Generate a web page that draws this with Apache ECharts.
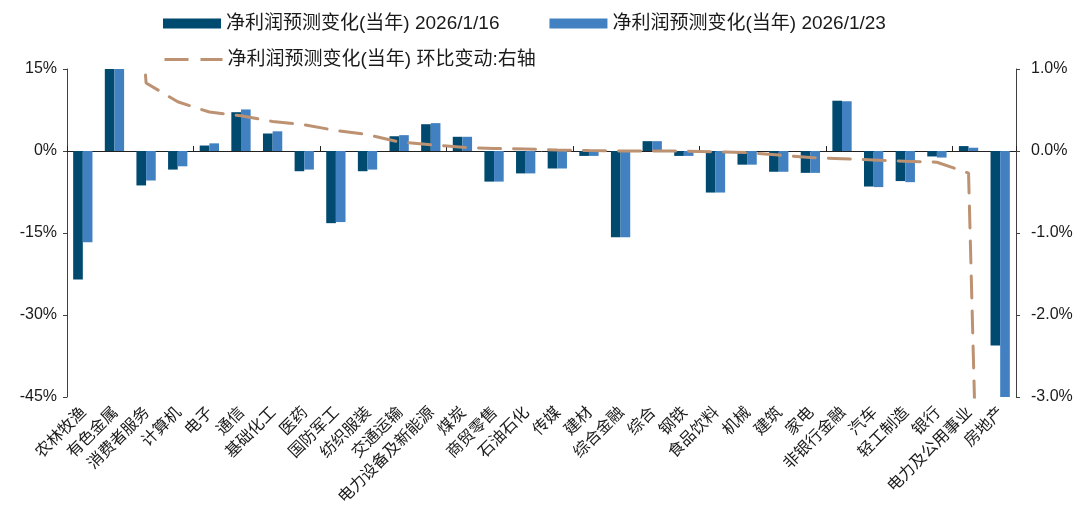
<!DOCTYPE html>
<html><head><meta charset="utf-8">
<script src="https://cdn.jsdelivr.net/npm/echarts@6/dist/echarts.min.js"></script>
<style>html,body{margin:0;padding:0;background:#fff}#c{width:1092px;height:519px}</style>
</head><body><div id="c"></div>
<script>
const categories = ['农林牧渔','有色金属','消费者服务','计算机','电子','通信','基础化工','医药','国防军工','纺织服装','交通运输','电力设备及新能源','煤炭','商贸零售','石油石化','传媒','建材','综合金融','综合','钢铁','食品饮料','机械','建筑','家电','非银行金融','汽车','轻工制造','银行','电力及公用事业','房地产'];
const seriesNames = ['净利润预测变化(当年) 2026/1/16','净利润预测变化(当年) 2026/1/23','净利润预测变化(当年) 环比变动:右轴'];
const chg0116 = [-23.5,16,-6.3,-3.4,1.0,7.1,3.2,-3.7,-13.2,-3.7,2.7,4.9,2.6,-5.6,-4.1,-3.2,-0.9,-15.8,1.8,-0.9,-7.6,-2.5,-3.8,-4.0,9.2,-6.5,-5.5,-1.0,0.9,-35.6];
const chg0123 = [-16.7,17,-5.4,-2.8,1.4,7.6,3.6,-3.4,-13.0,-3.4,2.9,5.1,2.6,-5.6,-4.1,-3.2,-0.9,-15.8,1.8,-0.9,-7.6,-2.5,-3.8,-4.0,9.1,-6.6,-5.7,-1.2,0.6,-50];
const chgDiff = [6.8,6.0,0.83,0.60,0.475,0.43,0.36,0.32,0.25,0.20,0.11,0.075,0.045,0.03,0.025,0.012,0.005,0.0,0.0,-0.002,-0.01,-0.02,-0.05,-0.08,-0.095,-0.11,-0.125,-0.137,-0.27,-15];
const leftTicks = {min:-45,max:15,interval:15};
const rightTicks = {min:-3,max:1,interval:1};

const FONT = 'Liberation Sans, Arial, "Noto Sans CJK SC", sans-serif';
const CJK = '"Noto Sans CJK SC", sans-serif';
const dark = '#004A70', light = '#4281C1', tan = '#BC9273', axisCol = '#404040';

const chart = echarts.init(document.getElementById('c'));
chart.setOption({
  animation:false,
  textStyle:{fontFamily:FONT},
  legend:[
    {data:[seriesNames[0],seriesNames[1]], icon:'rect', left:158, top:9, itemWidth:58, itemHeight:10, itemGap:50,
     textStyle:{fontSize:19,color:'#1a1a1a',fontFamily:FONT}},
    {data:[{name:seriesNames[2],itemStyle:{opacity:0}}], left:158, top:45, itemWidth:58, itemHeight:10,
     lineStyle:{color:tan,width:3,type:[24,12],cap:'butt'},
     textStyle:{fontSize:19,color:'#1a1a1a',fontFamily:FONT}}
  ],
  grid:{left:67,right:76,top:69,bottom:122,containLabel:false},
  xAxis:[
    {type:'category',data:categories,position:'bottom',
     axisLine:{show:false,onZero:false},axisTick:{show:false},
     axisLabel:{interval:0,rotate:45,margin:12,fontSize:16,color:'#1a1a1a',fontFamily:CJK}},
    {type:'category',data:categories,position:'top',
     axisLine:{show:true,onZero:true,onZeroAxisIndex:0,lineStyle:{color:'#222',width:1}},
     axisTick:{show:true,inside:false,length:5,lineStyle:{color:'#222'}},
     axisLabel:{show:false}}
  ],
  yAxis:[
    {type:'value',min:leftTicks.min,max:leftTicks.max,interval:leftTicks.interval,position:'left',
     axisLine:{show:true,lineStyle:{color:axisCol}},axisTick:{show:true,length:4,lineStyle:{color:axisCol}},
     splitLine:{show:false},
     axisLabel:{margin:10,fontSize:16,color:'#1a1a1a',formatter:v=>v+'%'}},
    {type:'value',min:rightTicks.min,max:rightTicks.max,interval:rightTicks.interval,position:'right',
     axisLine:{show:true,lineStyle:{color:axisCol}},axisTick:{show:true,length:4,lineStyle:{color:axisCol}},
     splitLine:{show:false},
     axisLabel:{margin:15,fontSize:16,color:'#1a1a1a',formatter:v=>v.toFixed(1)+'%'}}
  ],
  series:[
    {name:seriesNames[0],type:'bar',data:chg0116,xAxisIndex:0,yAxisIndex:0,barGap:'0%',barCategoryGap:'39%',
     itemStyle:{color:dark},clip:true},
    {name:seriesNames[1],type:'bar',data:chg0123,xAxisIndex:0,yAxisIndex:0,barGap:'0%',barCategoryGap:'39%',
     itemStyle:{color:light},clip:true},
    {name:seriesNames[2],type:'line',data:chgDiff,xAxisIndex:0,yAxisIndex:1,symbol:'none',clip:true,
     itemStyle:{color:tan},
     lineStyle:{color:tan,width:3,type:[22,13],cap:'round'}}
  ]
});
</script></body></html>
